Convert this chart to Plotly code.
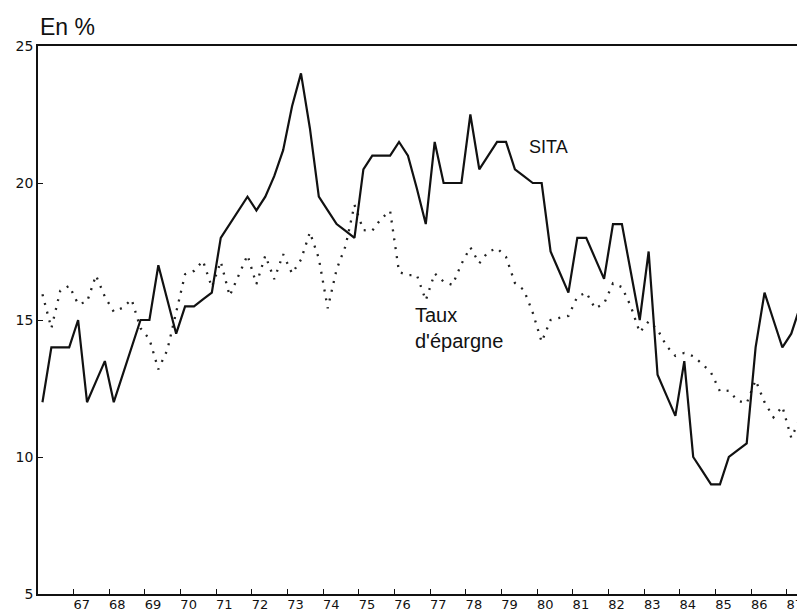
import plotly.graph_objects as go

# Quarterly series, first quarter = 1966 Q1
start_year = 1966

sita = [12.0, 14.0, 14.0, 14.0, 15.0, 12.0, 12.75, 13.5, 12.0, 13.0,
        14.0, 15.0, 15.0, 17.0, 15.75, 14.5, 15.5, 15.5, 15.75, 16.0,
        18.0, 18.5, 19.0, 19.5, 19.0, 19.5, 20.25, 21.2, 22.8, 24.0,
        22.0, 19.5, 19.0, 18.5, 18.25, 18.0, 20.5, 21.0, 21.0, 21.0,
        21.5, 21.0, 19.8, 18.5, 21.5, 20.0, 20.0, 20.0, 22.5, 20.5,
        21.0, 21.5, 21.5, 20.5, 20.25, 20.0, 20.0, 17.5, 16.75, 16.0,
        18.0, 18.0, 17.25, 16.5, 18.5, 18.5, 16.75, 15.0, 17.5, 13.0,
        12.25, 11.5, 13.5, 10.0, 9.5, 9.0, 9.0, 10.0, 10.25, 10.5,
        14.0, 16.0, 15.0, 14.0, 14.5, 15.5, 13.5]

taux = [15.94, 14.7, 16.07, 16.25, 15.58, 15.66, 16.63, 15.85, 15.3, 15.45,
        15.75, 14.7, 14.3, 13.2, 13.9, 15.3, 16.67, 16.79, 17.16, 16.2,
        17.13, 15.88, 16.65, 17.37, 16.31, 17.35, 16.49, 17.4, 16.7, 17.2,
        18.2, 17.25, 15.43, 16.85, 17.7, 19.2, 18.28, 18.26, 18.7, 18.98,
        16.75, 16.64, 16.64, 15.72, 16.7, 16.4, 16.28, 17.05, 17.65, 17.07,
        17.49, 17.62, 17.3, 16.35, 16.1, 15.27, 14.2, 15.0, 15.08, 15.15,
        15.85, 16.0, 15.42, 15.6, 16.34, 16.2, 15.5, 14.55, 14.95, 14.65,
        14.05, 13.69, 13.8, 13.68, 13.4, 13.08, 12.4, 12.42, 12.05, 11.96,
        12.8, 12.0, 11.45, 11.84, 10.7, 11.41, 11.1]

year_ticks = list(range(1967, 1988))
year_labels = [str(y)[2:] for y in year_ticks]
y_ticks = [5, 10, 15, 20, 25]

x_sita = [start_year + (i + 0.5) / 4 for i in range(len(sita))]
x_taux = [start_year + (i + 0.5) / 4 for i in range(len(taux))]

fig = go.Figure()
fig.add_trace(go.Scatter(x=x_taux, y=taux, mode="lines",
                         line=dict(color="#222222", width=2.3, dash="2px,7px"),
                         name="Taux d'épargne", showlegend=False))
fig.add_trace(go.Scatter(x=x_sita, y=sita, mode="lines",
                         line=dict(color="#111111", width=2.2),
                         name="SITA", showlegend=False))

fig.update_layout(
    width=797, height=603,
    margin=dict(l=30, r=0, t=38, b=17, autoexpand=False),
    paper_bgcolor="white", plot_bgcolor="white",
    font=dict(family="Liberation Sans, Arial, sans-serif", color="#111111"),
    xaxis=dict(range=[1966.0, 1987.51], tickvals=year_ticks, ticktext=year_labels,
               ticks="inside", ticklen=5, tickwidth=1.2, tickcolor="#111111",
               showline=True, linecolor="#111111", linewidth=1.5, mirror=True,
               showgrid=False, zeroline=False, ticklabelshift=8,
               ticklabelstandoff=-2,
               tickfont=dict(size=13, family="DejaVu Sans, sans-serif"), automargin=False),
    yaxis=dict(range=[5, 25], tickvals=y_ticks, ticks="inside", ticklen=5,
               tickwidth=1.2, tickcolor="#111111",
               showline=True, linecolor="#111111", linewidth=1.5,
               showgrid=False, zeroline=False,
               tickfont=dict(size=14, family="DejaVu Sans, sans-serif"), automargin=False),
    annotations=[
        dict(text="En %", xref="paper", yref="paper", x=0, y=1, xanchor="left",
             yanchor="bottom", xshift=0, yshift=4, showarrow=False,
             font=dict(size=23)),
        dict(text="SITA", xref="x", yref="y", x=1979.71, y=21.31, xanchor="left",
             yanchor="middle", showarrow=False, font=dict(size=18)),
        dict(text="Taux<br>d'épargne", xref="x", yref="y", x=1976.52, y=14.71,
             xanchor="left", yanchor="middle", align="left", showarrow=False,
             font=dict(size=20)),
    ],
)

fig.write_html("out.html")
